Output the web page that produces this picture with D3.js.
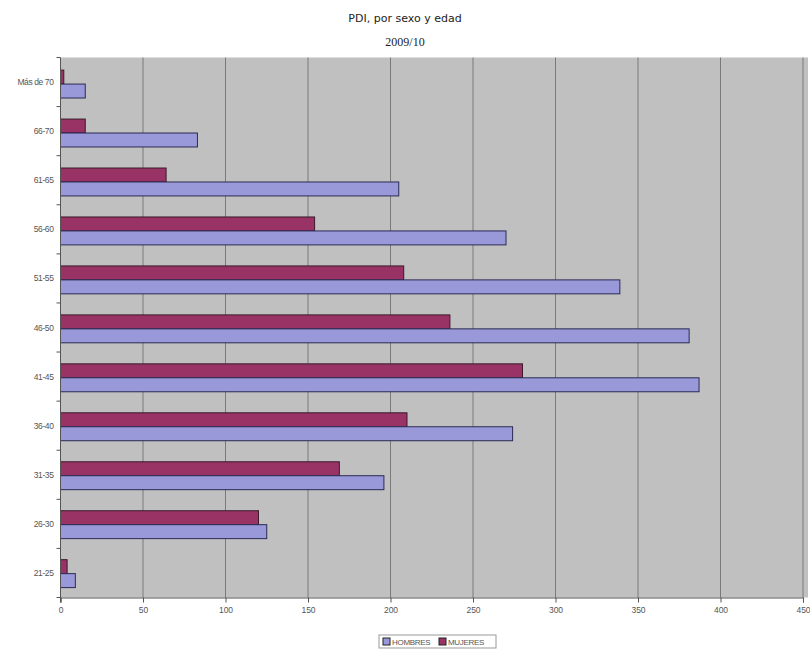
<!DOCTYPE html>
<html>
<head>
<meta charset="utf-8">
<script src="https://cdn.jsdelivr.net/npm/d3@7"></script>
<style>
  html, body { margin: 0; padding: 0; background: #ffffff; }
  svg { display: block; }
</style>
</head>
<body>
<svg id="chart" width="810" height="651"></svg>
<script>
// ---- Data ----
const categories = ["Más de 70", "66-70", "61-65", "56-60", "51-55", "46-50", "41-45", "36-40", "31-35", "26-30", "21-25"];
const hombres = [15, 83, 205, 270, 339, 381, 387, 274, 196, 125, 9];
const mujeres = [2, 15, 64, 154, 208, 236, 280, 210, 169, 120, 4];
const seriesNames = ["HOMBRES", "MUJERES"];
const xTicks = [0, 50, 100, 150, 200, 250, 300, 350, 400, 450];
const titleLines = ["PDI, por sexo y edad", "2009/10"];

const colors = { HOMBRES: "#9999d9", MUJERES: "#993366" };

const svg = d3.select("#chart");
const plot = { left: 60.5, right: 803, top: 57.5, bottom: 597.5 };

// Title
svg.append("text").attr("x", 405).attr("y", 22).attr("text-anchor", "middle")
  .style("font-family", "'DejaVu Sans', sans-serif").style("font-size", "11px").attr("fill", "#222")
  .text(titleLines[0]);
svg.append("text").attr("x", 405).attr("y", 46).attr("text-anchor", "middle")
  .style("font-family", "'Liberation Serif', 'DejaVu Serif', serif").style("font-size", "12px").attr("fill", "#222")
  .text(titleLines[1]);

// Scales
const x = d3.scaleLinear().domain([0, 450]).range([plot.left, plot.right]);
const y = d3.scaleBand().domain(categories).range([plot.top, plot.bottom])
  .paddingInner(0.43).paddingOuter(0.23).align(0.56);
const ySub = d3.scaleBand().domain(["MUJERES", "HOMBRES"]).range([0, y.bandwidth()]);

// Plot background
svg.append("rect").attr("x", plot.left).attr("y", plot.top)
  .attr("width", 808 - plot.left).attr("height", plot.bottom - plot.top)
  .attr("fill", "#c0c0c0");

// Gridlines
svg.append("g").selectAll("line").data(xTicks.filter(d => d > 0)).join("line")
  .attr("x1", d => x(d)).attr("x2", d => x(d))
  .attr("y1", plot.top).attr("y2", plot.bottom)
  .attr("stroke", "#7a7a7a").attr("stroke-width", 1);

// Bars
const rows = categories.map((c, i) => ({ cat: c, HOMBRES: hombres[i], MUJERES: mujeres[i] }));
const g = svg.append("g");
rows.forEach(r => {
  ["MUJERES", "HOMBRES"].forEach(s => {
    g.append("rect")
      .attr("x", x(0))
      .attr("y", y(r.cat) + ySub(s))
      .attr("width", x(r[s]) - x(0))
      .attr("height", ySub.bandwidth())
      .attr("fill", colors[s])
      .attr("stroke", s === "HOMBRES" ? "#2a2a55" : "#3a1a28")
      .attr("stroke-width", 1);
  });
});

// X axis
const xAxis = d3.axisBottom(x).tickValues(xTicks).tickSize(5).tickFormat(d3.format("d"));
const gx = svg.append("g").attr("transform", `translate(0,${plot.bottom})`).call(xAxis);
gx.select(".domain").attr("stroke", "#555");
gx.selectAll(".tick line").attr("stroke", "#555");
gx.selectAll(".tick text").attr("fill", "#555")
  .style("font-family", "'Liberation Sans Narrow', 'Liberation Sans', sans-serif").style("font-size", "8.5px")
  .attr("dy", "0.9em");

// Y axis (ticks at category boundaries)
const gy = svg.append("g").attr("transform", `translate(${plot.left},0)`);
gy.append("line").attr("x1", 0).attr("x2", 0).attr("y1", plot.top).attr("y2", plot.bottom + 5)
  .attr("stroke", "#555");
const step = (plot.bottom - plot.top) / categories.length;
const boundaries = d3.range(categories.length + 1).map(i => plot.top + i * step);
gy.selectAll("line.tk").data(boundaries).join("line").attr("class", "tk")
  .attr("x1", -4).attr("x2", 0).attr("y1", d => d).attr("y2", d => d).attr("stroke", "#555");
gy.selectAll("text").data(categories).join("text")
  .attr("x", -7).attr("y", d => plot.top + categories.indexOf(d) * step + step / 2 + 3)
  .attr("text-anchor", "end").attr("fill", "#555")
  .style("font-family", "'Liberation Sans Narrow', 'Liberation Sans', sans-serif").style("font-size", "8.5px")
  .style("letter-spacing", "-0.4px")
  .text(d => d);

// Legend
const lg = svg.append("g").attr("transform", "translate(379,635)");
lg.append("rect").attr("x", 0).attr("y", 0).attr("width", 117).attr("height", 13)
  .attr("fill", "#fff").attr("stroke", "#999");
const items = [{ name: "HOMBRES", x: 4 }, { name: "MUJERES", x: 60 }];
items.forEach(it => {
  lg.append("rect").attr("x", it.x).attr("y", 3).attr("width", 7).attr("height", 7)
    .attr("fill", colors[it.name]).attr("stroke", "#222");
  lg.append("text").attr("x", it.x + 9).attr("y", 10).attr("fill", "#555")
    .style("font-family", "'Liberation Sans Narrow', 'Liberation Sans', sans-serif").style("font-size", "8px")
    .style("letter-spacing", "-0.3px")
    .text(it.name);
});
</script>
</body>
</html>
